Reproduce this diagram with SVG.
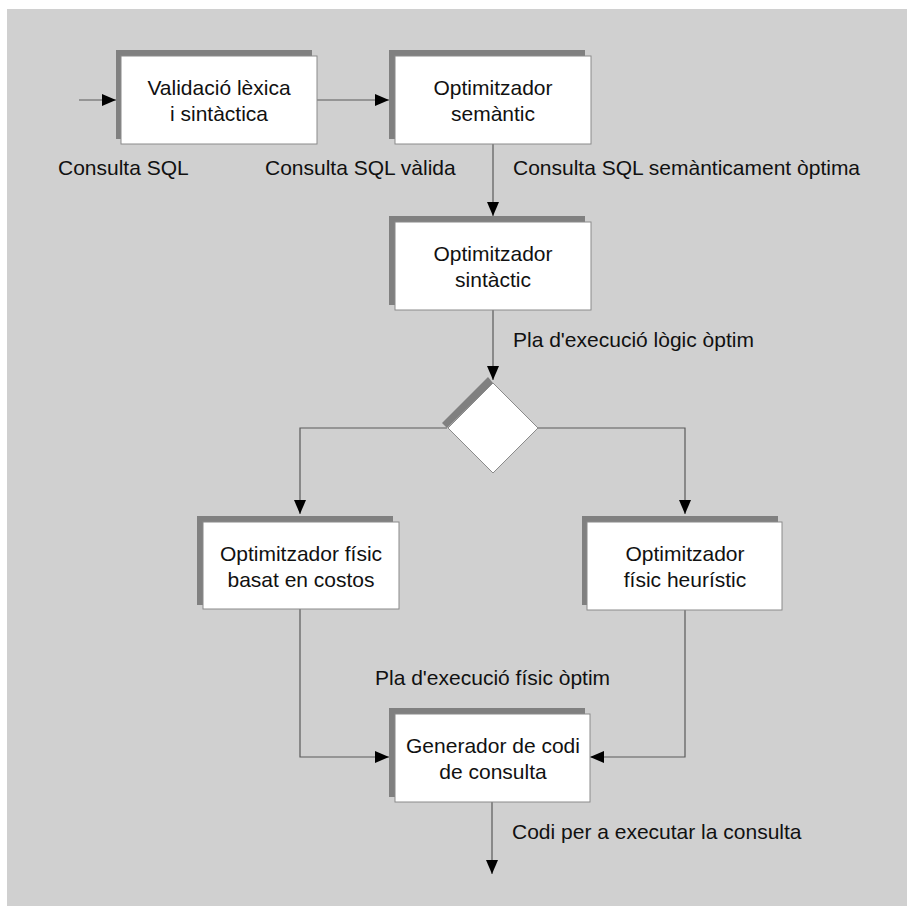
<svg xmlns="http://www.w3.org/2000/svg" width="907" height="906" viewBox="0 0 907 906">
<defs>
<marker id="ah" markerWidth="14" markerHeight="12" refX="14" refY="6" orient="auto" markerUnits="userSpaceOnUse">
<path d="M0,0 L14,6 L0,12 Z" fill="#000"/>
</marker>
<style>
.bg{fill:#d0d0d0}
.sh{fill:#808080}
.bx{fill:#fff;stroke:#8a8a8a;stroke-width:1}
.ln{fill:none;stroke:#5a5a5a;stroke-width:1.2}
text{font-family:"Liberation Sans",Arial,sans-serif;font-size:21px;fill:#111}
.c{text-anchor:middle}
</style>
</defs>
<rect class="bg" x="7" y="9" width="900" height="897"/>
<g id="connectors">
<line class="ln" x1="79" y1="100" x2="116" y2="100" marker-end="url(#ah)"/>
<line class="ln" x1="317" y1="100" x2="389" y2="100" marker-end="url(#ah)"/>
<line class="ln" x1="493" y1="144" x2="493" y2="216" marker-end="url(#ah)"/>
<line class="ln" x1="493" y1="310" x2="493" y2="380" marker-end="url(#ah)"/>
<polyline class="ln" points="447,428 300,428 300,514" marker-end="url(#ah)"/>
<polyline class="ln" points="538,428 685,428 685,514" marker-end="url(#ah)"/>
<polyline class="ln" points="300,609 300,757 389,757" marker-end="url(#ah)"/>
<polyline class="ln" points="685,610 685,757 590,757" marker-end="url(#ah)"/>
<line class="ln" x1="492" y1="802" x2="492" y2="874" marker-end="url(#ah)"/>
</g>
<g id="n1">
<rect class="sh" x="116" y="50" width="196" height="89"/>
<rect class="bx" x="121" y="56" width="196" height="88"/>
<text class="c" x="219" y="95">Validació lèxica</text>
<text class="c" x="219" y="121">i sintàctica</text>
</g>
<g id="n2">
<rect class="sh" x="389" y="50" width="196" height="89"/>
<rect class="bx" x="395" y="56" width="196" height="88"/>
<text class="c" x="493" y="95">Optimitzador</text>
<text class="c" x="493" y="121">semàntic</text>
</g>
<g id="n3">
<rect class="sh" x="389" y="216" width="196" height="89"/>
<rect class="bx" x="395" y="222" width="196" height="88"/>
<text class="c" x="493" y="261">Optimitzador</text>
<text class="c" x="493" y="287">sintàctic</text>
</g>
<g id="decision">
<polygon class="sh" points="442,423 488,377 493,383 447,428"/>
<polygon class="bx" points="493,383 538,428 493,473 448,428"/>
</g>
<g id="n4">
<rect class="sh" x="197" y="516" width="196" height="89"/>
<rect class="bx" x="203" y="522" width="196" height="87"/>
<text class="c" x="301" y="561">Optimitzador físic</text>
<text class="c" x="301" y="587">basat en costos</text>
</g>
<g id="n5">
<rect class="sh" x="582" y="516" width="196" height="89"/>
<rect class="bx" x="587" y="522" width="195" height="88"/>
<text class="c" x="685" y="561">Optimitzador</text>
<text class="c" x="685" y="587">físic heurístic</text>
</g>
<g id="n6">
<rect class="sh" x="389" y="708" width="196" height="89"/>
<rect class="bx" x="395" y="714" width="195" height="88"/>
<text class="c" x="493" y="753">Generador de codi</text>
<text class="c" x="493" y="779">de consulta</text>
</g>
<g id="labels">
<text x="58" y="175">Consulta SQL</text>
<text x="265" y="175">Consulta SQL vàlida</text>
<text x="513" y="175">Consulta SQL semànticament òptima</text>
<text x="513" y="347">Pla d'execució lògic òptim</text>
<text x="375" y="685">Pla d'execució físic òptim</text>
<text x="512" y="839">Codi per a executar la consulta</text>
</g>
</svg>
